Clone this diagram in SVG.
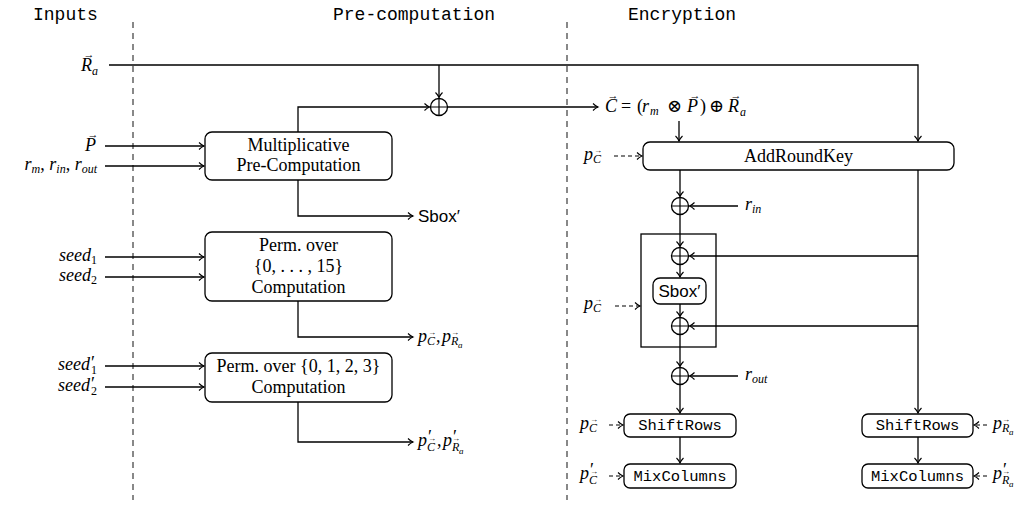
<svg xmlns="http://www.w3.org/2000/svg" width="1025" height="505" viewBox="0 0 1025 505">
<style>
.t{font-family:"Liberation Mono",monospace;font-size:18px;fill:#000}
.s{font-family:"Liberation Serif",serif;font-size:18px;fill:#000}
.m{font-family:"Liberation Serif",serif;font-style:italic;font-size:18px;fill:#000}
.u{font-family:"Liberation Serif","DejaVu Serif",serif;font-size:18px;fill:#000}
.ms{font-family:"Liberation Serif",serif;font-style:italic;font-size:12px;fill:#000}
.mss{font-family:"Liberation Serif",serif;font-style:italic;font-size:9px;fill:#000}
.va{font-family:"Liberation Serif","DejaVu Sans",serif;font-size:11px;text-anchor:middle;fill:#000}
.vs{font-family:"Liberation Serif","DejaVu Sans",serif;font-size:8px;text-anchor:middle;fill:#000}
.tt{font-family:"Liberation Mono",monospace;font-size:15.5px;fill:#000}
.sf{font-family:"Liberation Sans",sans-serif;font-size:17px;fill:#000}
.box{fill:#fff;stroke:#000;stroke-width:1.3}
.ar{fill:none;stroke:#000;stroke-width:1.3;marker-end:url(#ah)}
.da{fill:none;stroke:#000;stroke-width:1.2;stroke-dasharray:4 3;marker-end:url(#ah)}
.sep{stroke:#888;stroke-width:2;stroke-dasharray:6 5}
.x{fill:#fff;stroke:#000;stroke-width:1.3}
.sub{font-size:12px}
</style>
<defs>
<marker id="ah" markerWidth="10" markerHeight="10" refX="7" refY="5" orient="auto" markerUnits="userSpaceOnUse">
<path d="M2,1.5 Q4.5,4 7,5 Q4.5,6 2,8.5" fill="none" stroke="#000" stroke-width="1.1"/>
</marker>
<g id="xor"><circle r="8.5" class="x"/><path d="M-8.5,0H8.5M0,-8.5V8.5" stroke="#000" stroke-width="1.2"/></g>
</defs>
<rect width="1025" height="505" fill="#fff"/>
<g id="titles">
<text class="t" x="33" y="20">Inputs</text>
<text class="t" x="333" y="20">Pre-computation</text>
<text class="t" x="628" y="20">Encryption</text>
</g>
<g id="separators">
<line class="sep" x1="133" y1="22" x2="133" y2="500"/>
<line class="sep" x1="567" y1="22" x2="567" y2="500"/>
</g>
<g id="connectors">
<path class="ar" d="M109,65H918V141"/>
<path class="ar" d="M439,65V97.5"/>
<path class="ar" d="M298,132V107H429.5"/>
<path class="ar" d="M447.5,107H598"/>
<path class="ar" d="M679,121V141"/>
<path class="da" d="M614,156H642"/>
<path class="ar" d="M105,146H204"/>
<path class="ar" d="M105,166H204"/>
<path class="ar" d="M298,180V216H413"/>
<path class="ar" d="M105,257H204"/>
<path class="ar" d="M105,277H204"/>
<path class="ar" d="M298,301V337H413"/>
<path class="ar" d="M105,366H204"/>
<path class="ar" d="M105,387H204"/>
<path class="ar" d="M298,402V442H413"/>
<path class="ar" d="M680,170V196.5"/>
<path class="ar" d="M738,206H689.5"/>
<path class="ar" d="M680,214.5V246.5"/>
<path class="ar" d="M918,170V413"/>
<path class="ar" d="M918,256H689.5"/>
<path class="ar" d="M680,264.5V277"/>
<path class="ar" d="M680,304V316.5"/>
<path class="ar" d="M918,326H689.5"/>
<path class="ar" d="M680,334.5V366.5"/>
<path class="ar" d="M738,376H689.5"/>
<path class="ar" d="M680,384.5V413"/>
<path class="ar" d="M680,437V463"/>
<path class="ar" d="M918,437V463"/>
<path class="da" d="M615,306H640"/>
<path class="da" d="M609,425H623"/>
<path class="da" d="M609,476H623"/>
<path class="da" d="M987,425H974"/>
<path class="da" d="M987,476H974"/>
</g>
<g id="xor-main"><use href="#xor" x="439" y="107"/></g>
<g id="xor-rin"><use href="#xor" x="680" y="206"/></g>
<g id="sbox-block"><rect x="641" y="234" width="75" height="113" fill="none" stroke="#000" stroke-width="1.3"/></g>
<g id="xor-k1"><use href="#xor" x="680" y="256"/></g>
<g id="xor-k2"><use href="#xor" x="680" y="326"/></g>
<g id="xor-rout"><use href="#xor" x="680" y="376"/></g>
<g id="mult">
<rect class="box" x="205" y="132" width="187" height="48" rx="7"/>
<text class="s" x="298.5" y="151" text-anchor="middle">Multiplicative</text>
<text class="s" x="298.5" y="171" text-anchor="middle">Pre-Computation</text>
</g>
<g id="perm16">
<rect class="box" x="205" y="232" width="187" height="69" rx="7"/>
<text class="s" x="298.5" y="251" text-anchor="middle">Perm. over</text>
<text class="s" x="298.5" y="272" text-anchor="middle">{0, . . . , 15}</text>
<text class="s" x="298.5" y="293" text-anchor="middle">Computation</text>
</g>
<g id="perm4">
<rect class="box" x="205" y="353" width="187" height="49" rx="7"/>
<text class="s" x="298.5" y="372" text-anchor="middle">Perm. over {0, 1, 2, 3}</text>
<text class="s" x="298.5" y="393" text-anchor="middle">Computation</text>
</g>
<g id="addroundkey">
<rect class="box" x="643" y="142" width="311" height="28" rx="7"/>
<text class="s" x="798.5" y="162" text-anchor="middle">AddRoundKey</text>
</g>
<g id="sbox">
<rect class="box" x="653" y="278" width="53" height="26" rx="7"/>
<text class="sf" x="679.5" y="297" text-anchor="middle">Sbox′</text>
</g>
<g id="shiftrows-l">
<rect class="box" x="624" y="414" width="112" height="23" rx="6"/>
<text class="tt" x="680" y="430" text-anchor="middle">ShiftRows</text>
</g>
<g id="mixcolumns-l">
<rect class="box" x="624" y="464" width="112" height="24" rx="6"/>
<text class="tt" x="680" y="481" text-anchor="middle">MixColumns</text>
</g>
<g id="shiftrows-r">
<rect class="box" x="862" y="414" width="111" height="23" rx="6"/>
<text class="tt" x="917.5" y="430" text-anchor="middle">ShiftRows</text>
</g>
<g id="mixcolumns-r">
<rect class="box" x="862" y="464" width="111" height="24" rx="6"/>
<text class="tt" x="917.5" y="481" text-anchor="middle">MixColumns</text>
</g>
<g id="labels">
<text class="m" x="81" y="71">R</text><text class="ms" x="92" y="75">a</text><text class="va" x="89" y="58">→</text>
<text class="m" x="85" y="151">P</text><text class="va" x="93" y="138">→</text>
<text class="m" x="97" y="170" text-anchor="end">r<tspan class="sub" dy="3">m</tspan><tspan dy="-3" font-style="normal">, </tspan>r<tspan class="sub" dy="3">in</tspan><tspan dy="-3" font-style="normal">, </tspan>r<tspan class="sub" dy="3">out</tspan></text>
<text class="m" x="97" y="261" text-anchor="end">seed<tspan class="sub" dy="3" font-style="normal">1</tspan></text>
<text class="m" x="97" y="281" text-anchor="end">seed<tspan class="sub" dy="3" font-style="normal">2</tspan></text>
<text class="m" x="58" y="370">seed</text><text class="u" x="91" y="369">′</text><text class="u sub" x="91" y="374">1</text>
<text class="m" x="58" y="391">seed</text><text class="u" x="91" y="390">′</text><text class="u sub" x="91" y="395">2</text>
<text class="sf" x="418" y="222">Sbox′</text>
<text class="m" x="418" y="342">p</text><text class="ms" x="427" y="345">C</text><text class="vs" x="432" y="335">→</text>
<text class="u" x="436" y="342">,</text>
<text class="m" x="442" y="342">p</text><text class="ms" x="451" y="345">R</text><text class="mss" x="458" y="348">a</text><text class="vs" x="455" y="335">→</text>
<text class="m" x="418" y="446">p</text><text class="u" x="428" y="443">′</text><text class="ms" x="427" y="451">C</text><text class="vs" x="432" y="441">→</text>
<text class="u" x="437" y="446">,</text>
<text class="m" x="443" y="446">p</text><text class="u" x="453" y="443">′</text><text class="ms" x="452" y="451">R</text><text class="mss" x="459" y="454">a</text><text class="vs" x="456" y="441">→</text>
<text class="m" x="605" y="112">C</text><text class="va" x="613" y="99">→</text>
<text class="u" x="621" y="112">=</text><text class="u" x="637" y="112">(</text>
<text class="m" x="642" y="112">r</text><text class="ms" x="650" y="115">m</text>
<text class="u" x="667" y="112">⊗</text>
<text class="m" x="687" y="112">P</text><text class="va" x="695" y="99">→</text>
<text class="u" x="700" y="112">)</text>
<text class="u" x="709" y="112">⊕</text>
<text class="m" x="728" y="112">R</text><text class="ms" x="740" y="116">a</text><text class="va" x="736" y="99">→</text>
<text class="m" x="584" y="160">p</text><text class="ms" x="593" y="163">C</text><text class="vs" x="598" y="153">→</text>
<text class="m" x="745" y="210">r<tspan class="sub" dy="3">in</tspan></text>
<text class="m" x="584" y="309">p</text><text class="ms" x="593" y="312">C</text><text class="vs" x="598" y="302">→</text>
<text class="m" x="745" y="380">r<tspan class="sub" dy="3">out</tspan></text>
<text class="m" x="580" y="429">p</text><text class="ms" x="589" y="432">C</text><text class="vs" x="594" y="422">→</text>
<text class="m" x="580" y="479">p</text><text class="u" x="590" y="476">′</text><text class="ms" x="589" y="484">C</text><text class="vs" x="594" y="474">→</text>
<text class="m" x="993" y="429">p</text><text class="ms" x="1002" y="432">R</text><text class="mss" x="1009" y="435">a</text><text class="vs" x="1006" y="422">→</text>
<text class="m" x="993" y="479">p</text><text class="u" x="1003" y="476">′</text><text class="ms" x="1002" y="484">R</text><text class="mss" x="1009" y="487">a</text><text class="vs" x="1006" y="474">→</text>
</g>
</svg>
